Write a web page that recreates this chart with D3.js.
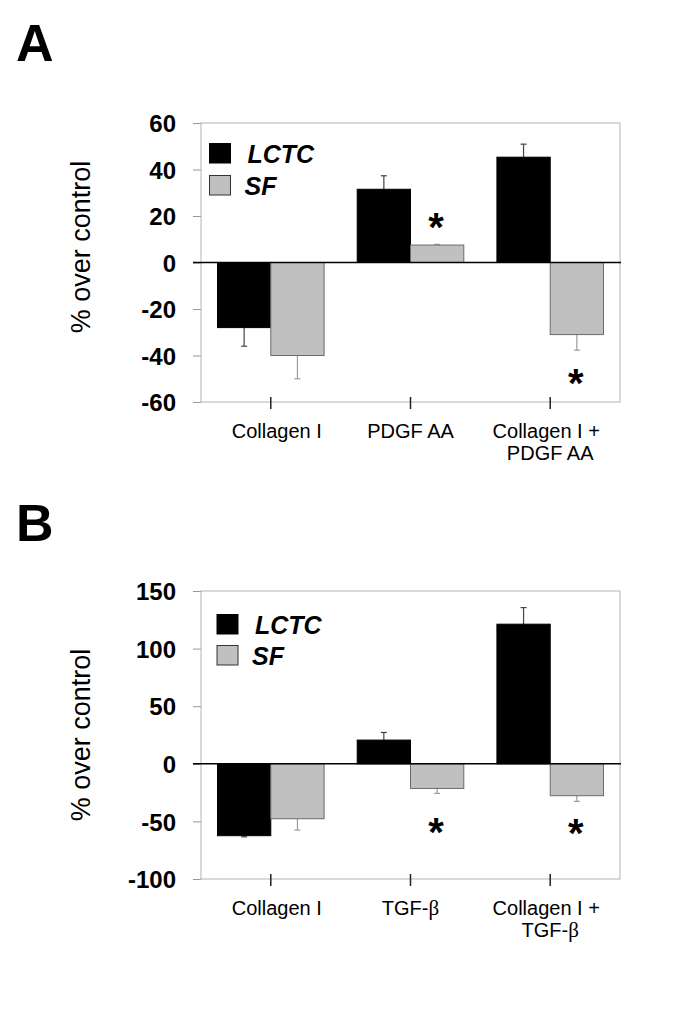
<!DOCTYPE html>
<html><head><meta charset="utf-8">
<script src="https://cdn.jsdelivr.net/npm/d3@7"></script>
<style>
html,body{margin:0;padding:0;background:#fff;}
svg{display:block;}
</style></head>
<body>
<script>
// ---- data ----
const seriesNames = ["LCTC", "SF"];
const catsA = [["Collagen I"], ["PDGF AA"], ["Collagen I +", "PDGF AA"]];
const catsB = [["Collagen I"], ["TGF-β"], ["Collagen I +", "TGF-β"]];
const lctcA = [-28, 31.5, 45.3];
const lctcErrA = [8, 5.8, 5.6];
const sfA = [-40, 7.5, -31];
const sfErrA = [10, 0.3, 6.7];
const sigA = [null, 19, -48];   // asterisk positions (data units) on SF bars
const lctcB = [-62.4, 20.6, 121.2];
const lctcErrB = [1, 6.6, 14.4];
const sfB = [-47.7, -21.4, -27.7];
const sfErrB = [9.8, 4.3, 4.9];
const sigB = [null, -51, -52];
const ticksA = [-60, -40, -20, 0, 20, 40, 60];
const ticksB = [-100, -50, 0, 50, 100, 150];

const W = 685, H = 1012;
const FONT = "'Liberation Sans', Arial, Helvetica, sans-serif";
const svg = d3.select("body").append("svg").attr("width", W).attr("height", H);
svg.append("rect").attr("width", W).attr("height", H).attr("fill", "#fff");

function panel(cfg) {
  const g = svg.append("g");
  const x0 = 201, x1 = 620;
  const y = d3.scaleLinear().domain(cfg.domain).range([cfg.bottom, cfg.top]);
  const keys = cfg.cats.map((c, i) => "c" + i);
  const x = d3.scaleBand().domain(keys).range([x0, x1]).paddingInner(0.237).paddingOuter(0.118);
  const xs = d3.scaleBand().domain(seriesNames).range([0, x.bandwidth()]);
  const colors = {LCTC: "#000", SF: "#c0c0c0"};
  const strokes = {LCTC: "#000", SF: "#6a6a6a"};
  const errCol = {LCTC: "#444", SF: "#9a9a9a"};

  // panel letter
  g.append("text").attr("x", 16).attr("y", cfg.letterY).text(cfg.letter)
    .attr("font-family", FONT).attr("font-weight", "bold").attr("font-size", 52);

  // frame
  g.append("rect").attr("x", x0).attr("y", cfg.top).attr("width", x1 - x0).attr("height", cfg.bottom - cfg.top)
    .attr("fill", "none").attr("stroke", "#b4b4b4").attr("stroke-width", 1);

  // y axis
  const yAxis = d3.axisLeft(y).tickValues(cfg.ticks).tickSize(8).tickPadding(17).tickFormat(d => String(d));
  const ya = g.append("g").attr("transform", `translate(${x0},0)`).call(yAxis);
  ya.select(".domain").remove();
  ya.selectAll(".tick line").attr("stroke", "#999");
  ya.selectAll(".tick text").attr("font-family", FONT).attr("font-weight", "bold")
    .attr("font-size", 24).attr("fill", "#000").attr("dy", "0.36em");

  // y title
  g.append("text").attr("transform", `translate(${cfg.titleX},${cfg.titleY}) rotate(-90)`)
    .attr("text-anchor", "middle").attr("font-family", FONT).attr("font-size", 27)
    .text("% over control");

  // bars
  const data = [];
  cfg.cats.forEach((c, i) => {
    data.push({cat: keys[i], s: "LCTC", v: cfg.lctc[i], e: cfg.lctcErr[i]});
    data.push({cat: keys[i], s: "SF", v: cfg.sf[i], e: cfg.sfErr[i]});
  });
  // error bars
  data.forEach(d => {
    const cx = x(d.cat) + xs(d.s) + xs.bandwidth() / 2;
    const end = d.v >= 0 ? d.v + d.e : d.v - d.e;
    g.append("line").attr("x1", cx).attr("x2", cx).attr("y1", y(d.v)).attr("y2", y(end))
      .attr("stroke", errCol[d.s]).attr("stroke-width", 1.2);
    g.append("line").attr("x1", cx - 3).attr("x2", cx + 3).attr("y1", y(end)).attr("y2", y(end))
      .attr("stroke", errCol[d.s]).attr("stroke-width", 1.2);
  });
  g.selectAll("rect.bar").data(data).join("rect").attr("class", "bar")
    .attr("x", d => x(d.cat) + xs(d.s))
    .attr("width", xs.bandwidth())
    .attr("y", d => y(Math.max(0, d.v)))
    .attr("height", d => Math.abs(y(d.v) - y(0)))
    .attr("fill", d => colors[d.s]).attr("stroke", d => strokes[d.s]).attr("stroke-width", 1);

  // zero line
  g.append("line").attr("x1", x0 - 8).attr("x2", x1 + 1).attr("y1", y(0)).attr("y2", y(0))
    .attr("stroke", "#000").attr("stroke-width", 1.5);

  // x ticks
  keys.forEach(k => {
    const cx = x(k) + x.bandwidth() / 2;
    g.append("line").attr("x1", cx).attr("x2", cx).attr("y1", cfg.bottom - 5).attr("y2", cfg.bottom + 7)
      .attr("stroke", "#222").attr("stroke-width", 1.5);
  });
  // x labels
  cfg.cats.forEach((lines, i) => {
    const cx = x(keys[i]) + x.bandwidth() / 2;
    lines.forEach((ln, j) => {
      const t = g.append("text").attr("x", cx + (cfg.labelDx[i] || 0) + (j === 0 && lines.length > 1 ? -4 : 0))
        .attr("y", cfg.bottom + 36 + j * 22.3)
        .attr("text-anchor", "middle").attr("font-family", FONT).attr("font-size", 20).attr("fill", "#000");
      const parts = ln.split("β");
      if (parts.length > 1) {
        t.append("tspan").text(parts[0]);
        t.append("tspan").text("β").attr("font-family", "'Liberation Serif','Times New Roman',serif").attr("font-size", 21);
        if (parts[1]) t.append("tspan").text(parts[1]);
      } else t.text(ln);
    });
  });

  // asterisks
  cfg.sig.forEach((v, i) => {
    if (v == null) return;
    const cx = x(keys[i]) + xs("SF") + xs.bandwidth() / 2;
    g.append("text").attr("x", cx - 1).attr("y", y(v) + 23).attr("text-anchor", "middle")
      .attr("font-family", FONT).attr("font-weight", "bold").attr("font-size", 40).text("*");
  });

  // legend
  const lg = g.append("g");
  seriesNames.forEach((s, i) => {
    const ly = cfg.legY[i];
    lg.append("rect").attr("x", cfg.legX).attr("y", ly).attr("width", 21).attr("height", 19.5)
      .attr("fill", colors[s]).attr("stroke", s === "SF" ? "#333" : "#000").attr("stroke-width", 1);
    lg.append("text").attr("x", cfg.legX + 38 - (i ? 3 : 0)).attr("y", ly + 19.5)
      .attr("font-family", FONT).attr("font-weight", "bold").attr("font-style", "italic")
      .attr("font-size", 25).text(s);
  });
}

panel({
  letter: "A", letterY: 61, top: 123, bottom: 402, domain: [-60, 60], ticks: ticksA,
  cats: catsA, lctc: lctcA, lctcErr: lctcErrA, sf: sfA, sfErr: sfErrA, sig: sigA,
  titleX: 89.5, titleY: 247, legX: 209.5, legY: [143.5, 175.5], labelDx: [6, 0, 0]
});
panel({
  letter: "B", letterY: 541, top: 591, bottom: 879, domain: [-100, 150], ticks: ticksB,
  cats: catsB, lctc: lctcB, lctcErr: lctcErrB, sf: sfB, sfErr: sfErrB, sig: sigB,
  titleX: 89.5, titleY: 735, legX: 217, legY: [614.5, 645.5], labelDx: [6, 0, 0]
});
</script>
</body></html>
